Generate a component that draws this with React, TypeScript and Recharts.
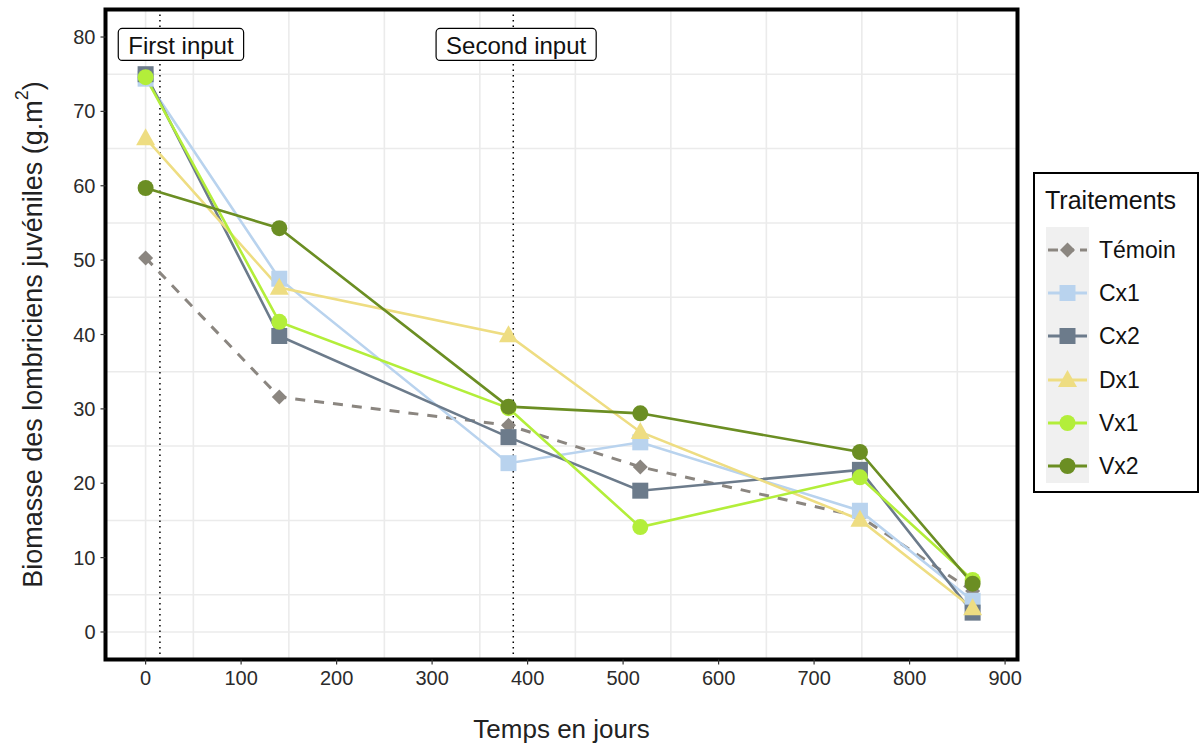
import React from "react";
import {
  LineChart,
  Line,
  XAxis,
  YAxis,
  CartesianGrid,
  ReferenceLine,
  ReferenceArea,
  ReferenceDot,
} from "recharts";

// sampling days
const days = [0, 140, 380, 518, 748, 866];

// juvenile earthworm biomass (g.m2) per treatment
const temoin = [50.3, 31.6, 27.8, 22.2, 15.5, 5.5];
const cx1 = [74.4, 47.5, 22.7, 25.5, 16.3, 4.2];
const cx2 = [75.0, 39.8, 26.2, 19.0, 21.8, 2.6];
const dx1 = [66.4, 46.3, 39.9, 26.9, 15.1, 3.2];
const vx1 = [74.6, 41.7, 30.1, 14.1, 20.8, 7.0];
const vx2 = [59.7, 54.3, 30.3, 29.4, 24.2, 6.5];

const xTicks = [0, 100, 200, 300, 400, 500, 600, 700, 800, 900];
const yTicks = [0, 10, 20, 30, 40, 50, 60, 70, 80];
const xMinor = [50, 150, 250, 350, 450, 550, 650, 750, 850];
const yMinor = [5, 15, 25, 35, 45, 55, 65, 75];

// input events
const inputDays = [15, 385];
const inputLabels = ["First input", "Second input"];
const inputLabelX = [37, 388];
const inputLabelY = 79;

const X_DOMAIN: [number, number] = [-42, 913];
const Y_DOMAIN: [number, number] = [-3.7, 83.7];

const FONT = "'Liberation Sans', Arial, Helvetica, sans-serif";

type Shape = "diamond" | "square" | "triangle" | "circle";

const series = [
  { key: "Témoin", values: temoin, color: "#8b8680", shape: "diamond" as Shape, dashed: true },
  { key: "Cx1", values: cx1, color: "#b9d3ee", shape: "square" as Shape, dashed: false },
  { key: "Cx2", values: cx2, color: "#6c7b8b", shape: "square" as Shape, dashed: false },
  { key: "Dx1", values: dx1, color: "#eedd82", shape: "triangle" as Shape, dashed: false },
  { key: "Vx1", values: vx1, color: "#b3ee3a", shape: "circle" as Shape, dashed: false },
  { key: "Vx2", values: vx2, color: "#6b8e23", shape: "circle" as Shape, dashed: false },
];

const data = days.map((d, i) => {
  const row: Record<string, number> = { day: d };
  series.forEach((s) => (row[s.key] = s.values[i]));
  return row;
});

function Marker({ cx, cy, shape, color }: { cx: number; cy: number; shape: Shape; color: string }) {
  if (cx == null || cy == null) return null;
  if (shape === "square") return <rect x={cx - 8} y={cy - 8} width={16} height={16} fill={color} />;
  if (shape === "triangle")
    return <polygon points={`${cx},${cy - 10} ${cx - 9.5},${cy + 7} ${cx + 9.5},${cy + 7}`} fill={color} />;
  if (shape === "diamond")
    return <polygon points={`${cx},${cy - 7.5} ${cx + 7.5},${cy} ${cx},${cy + 7.5} ${cx - 7.5},${cy}`} fill={color} />;
  return <circle cx={cx} cy={cy} r={8} fill={color} />;
}

let ctx: CanvasRenderingContext2D | null = null;
function textWidth(t: string, size: number) {
  if (!ctx) ctx = document.createElement("canvas").getContext("2d");
  if (!ctx) return t.length * size * 0.5;
  ctx.font = `${size}px ${FONT}`;
  return ctx.measureText(t).width;
}

function LabelBox({ cx, cy, text }: { cx?: number; cy?: number; text: string }) {
  if (cx == null || cy == null) return null;
  const fs = 24;
  const w = textWidth(text, fs) + 20;
  const h = 32;
  return (
    <g>
      <rect x={cx - w / 2} y={cy - h / 2} width={w} height={h} rx={4} fill="#fff" stroke="#000" strokeWidth={1.2} />
      <text x={cx} y={cy + 1} textAnchor="middle" dominantBaseline="central" fontSize={fs} fontFamily={FONT} fill="#111">
        {text}
      </text>
    </g>
  );
}

function Legend() {
  return (
    <div
      style={{
        position: "absolute",
        left: 1033,
        top: 172,
        width: 166,
        height: 321,
        boxSizing: "border-box",
        border: "2px solid #000",
        background: "#fff",
        fontFamily: FONT,
      }}
    >
      <div style={{ position: "absolute", left: 10, top: 12, fontSize: 25, color: "#111" }}>Traitements</div>
      <div style={{ position: "absolute", left: 11, top: 53, width: 43, height: 256, background: "#f0f0f0" }} />
      {series.map((s, i) => {
        const cy = 76 + i * 43.2;
        return (
          <React.Fragment key={s.key}>
            <svg style={{ position: "absolute", left: 11, top: cy - 12 }} width={43} height={24}>
              <line x1={2} x2={41} y1={12} y2={12} stroke={s.color} strokeWidth={2.8} strokeDasharray={s.dashed ? "10 6" : undefined} />
              <Marker cx={21.5} cy={12} shape={s.shape} color={s.color} />
            </svg>
            <div style={{ position: "absolute", left: 64, top: cy - 14, fontSize: 23, lineHeight: "28px", color: "#111" }}>
              {s.key}
            </div>
          </React.Fragment>
        );
      })}
    </div>
  );
}

export default function App() {
  return (
    <div style={{ position: "absolute", left: 0, top: 0, width: 1202, height: 744, background: "#fff" }}>
      <LineChart
        width={1202}
        height={744}
        data={data}
        margin={{ top: 9.5, right: 184.5, bottom: 0, left: 0 }}
      >
        <CartesianGrid
          stroke="#ebebeb"
          strokeWidth={1.6}
          verticalValues={[...xTicks, ...xMinor]}
          horizontalValues={[...yTicks, ...yMinor]}
        />
        <XAxis
          dataKey="day"
          type="number"
          domain={X_DOMAIN}
          ticks={xTicks}
          allowDataOverflow
          height={84.5}
          axisLine={false}
          tickSize={5}
          tickMargin={6}
          tickLine={{ stroke: "#333", strokeWidth: 1.2 }}
          tick={{ fontSize: 20, fill: "#2b2b2b", fontFamily: FONT }}
          label={{
            content: (p: any) => {
              const vb = p.viewBox || {};
              return (
                <text
                  x={vb.x + vb.width / 2}
                  y={vb.y + 69}
                  textAnchor="middle"
                  dominantBaseline="central"
                  fontSize={26}
                  fontFamily={FONT}
                  fill="#222"
                >
                  Temps en jours
                </text>
              );
            },
          }}
        />
        <YAxis
          type="number"
          domain={Y_DOMAIN}
          ticks={yTicks}
          allowDataOverflow
          width={105.5}
          axisLine={false}
          tickSize={5}
          tickMargin={5}
          tickLine={{ stroke: "#333", strokeWidth: 1.2 }}
          tick={{ fontSize: 20, fill: "#2b2b2b", fontFamily: FONT }}
          label={{
            content: (p: any) => {
              const vb = p.viewBox || {};
              const cx = 33;
              const cy = vb.y + vb.height / 2;
              return (
                <text
                  x={cx}
                  y={cy}
                  transform={`rotate(-90 ${cx} ${cy})`}
                  textAnchor="middle"
                  dominantBaseline="central"
                  fontSize={27}
                  fontFamily={FONT}
                  fill="#222"
                >
                  Biomasse des lombriciens juvéniles (g.m
                  <tspan dy={-11} fontSize={18}>2</tspan>
                  <tspan dy={11}>)</tspan>
                </text>
              );
            },
          }}
        />
        {inputDays.map((d) => (
          <ReferenceLine key={`in-${d}`} x={d} stroke="#000" strokeWidth={1.5} strokeDasharray="1.5 4" />
        ))}
        {series.map((s) => (
          <Line
            key={s.key}
            dataKey={s.key}
            type="linear"
            stroke={s.color}
            strokeWidth={s.dashed ? 3 : 2.6}
            strokeDasharray={s.dashed ? "10 9" : undefined}
            isAnimationActive={false}
            dot={(p: any) => (
              <Marker key={`${s.key}-${p.index}`} cx={p.cx} cy={p.cy} shape={s.shape} color={s.color} />
            )}
            activeDot={false}
          />
        ))}
        {inputLabels.map((t, i) => (
          <ReferenceDot
            key={t}
            x={inputLabelX[i]}
            y={inputLabelY}
            r={0}
            shape={(p: any) => <LabelBox cx={p.cx} cy={p.cy} text={t} />}
          />
        ))}
        <ReferenceArea
          x1={X_DOMAIN[0]}
          x2={X_DOMAIN[1]}
          y1={Y_DOMAIN[0]}
          y2={Y_DOMAIN[1]}
          fill="none"
          stroke="#000"
          strokeWidth={4}
          ifOverflow="visible"
        />
      </LineChart>
      <Legend />
    </div>
  );
}
